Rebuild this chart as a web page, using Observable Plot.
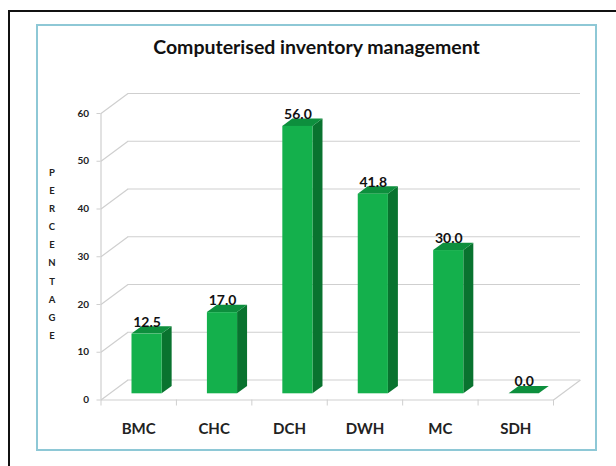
<!DOCTYPE html>
<html>
<head>
<meta charset="utf-8">
<script src="https://cdn.jsdelivr.net/npm/d3@7"></script>
<script src="https://cdn.jsdelivr.net/npm/@observablehq/plot@0.6"></script>
<style>
  html, body { margin: 0; padding: 0; background: #fff; overflow: hidden; }
  #wrap { position: relative; width: 616px; height: 466px; overflow: hidden; font-family: Lato, "Open Sans", sans-serif; }
  #outer { position: absolute; left: 8px; top: 10px; width: 700px; height: 600px; border-left: 2px solid #111; border-top: 2px solid #111; box-sizing: border-box; }
  #inner { position: absolute; left: 36px; top: 24px; width: 561px; height: 427px; border: 2px solid #8ec8d6; box-sizing: border-box; }
  #title { position: absolute; left: 36px; width: 561px; top: 35px; text-align: center; font-weight: 700; font-size: 19.5px; color: #111; }
  #ylabel { position: absolute; left: 47px; width: 10px; top: 164px; text-align: center; font-weight: 700; font-size: 9.5px; line-height: 18.1px; color: #222; }
  #chart { position: absolute; left: 0; top: 0; }
</style>
</head>
<body>
<div id="wrap">
  <div id="outer"></div>
  <div id="inner"></div>
  <div id="title"></div>
  <div id="ylabel"></div>
  <div id="chart"></div>
</div>
<script>
const categories = ["BMC", "CHC", "DCH", "DWH", "MC", "SDH"];
const values = [12.5, 17.0, 56.0, 41.8, 30.0, 0.0];
const yTicks = [0, 10, 20, 30, 40, 50, 60];
const xBoundaries = [0, 1, 2, 3, 4, 5, 6];
const titleText = "Computerised inventory management";
const yLabelText = "PERCENTAGE";

document.getElementById("title").textContent = titleText;
document.getElementById("ylabel").innerHTML = yLabelText.split("").join("<br>");

// perspective depth, expressed in data units
const DX = 0.358, DY = 4.19;
const F0 = 0.31, F1 = 0.68;

const bars = categories.map((c, i) => ({c, i, v: values[i]}));
const frontFaces = bars.map(d => ({c: d.c, x1: d.i + 0.3 + F0 * DX, x2: d.i + 0.7 + F0 * DX, y1: F0 * DY, y2: d.v + F0 * DY}));
const sideFaces = bars.flatMap(d => [
  {c: d.c, x: d.i + 0.7 + F0 * DX, y1: F0 * DY, y2: d.v + F0 * DY},
  {c: d.c, x: d.i + 0.7 + F1 * DX, y1: F1 * DY, y2: d.v + F1 * DY}
]);
const topFaces = bars.flatMap(d => [
  {c: d.c, y: d.v + F0 * DY, x1: d.i + 0.3 + F0 * DX, x2: d.i + 0.7 + F0 * DX},
  {c: d.c, y: d.v + F1 * DY, x1: d.i + 0.3 + F1 * DX, x2: d.i + 0.7 + F1 * DX}
]);

const grid = "#cfcfcf";
const chart = Plot.plot({
  width: 616,
  height: 466,
  marginLeft: 100.5,
  marginRight: 63,
  marginTop: 113,
  marginBottom: 66.5,
  style: {fontFamily: "Lato, 'Open Sans', sans-serif", background: "transparent", overflow: "visible"},
  x: {domain: [0, 6], ticks: xBoundaries, tickSize: 6, tickFormat: () => "", label: null},
  y: {domain: [0, 60], ticks: yTicks, tickSize: 4, tickPadding: 8, label: null, tickFormat: d => String(d)},
  marks: [
    Plot.ruleY(yTicks, {y: d => d + DY, x1: DX, x2: 6 + DX, stroke: grid, strokeWidth: 1.2}),
    Plot.link(yTicks, {x1: 0, y1: d => d, x2: DX, y2: d => d + DY, stroke: grid, strokeWidth: 1.2}),
    Plot.ruleY([0], {x1: 0, x2: 6, stroke: grid, strokeWidth: 1.2}),
    Plot.link([0], {x1: 6, y1: d => d, x2: 6 + DX, y2: d => d + DY, stroke: grid, strokeWidth: 1.2}),
    Plot.ruleX([0], {y1: 0, y2: 60, stroke: grid, strokeWidth: 1.2}),
    Plot.areaY(sideFaces, {x: "x", y1: "y1", y2: "y2", z: "c", fill: "#09732f"}),
    Plot.areaX(topFaces, {y: "y", x1: "x1", x2: "x2", z: "c", fill: "#0d8f3d"}),
    Plot.rect(frontFaces, {x1: "x1", x2: "x2", y1: "y1", y2: "y2", fill: "#14b04c"}),
    Plot.text(bars, {x: d => d.i + 0.5 + F0 * DX, y: d => d.v + F0 * DY, dy: -12, text: d => d.v.toFixed(1), fontWeight: "bold", fontSize: 14, fill: "#111"}),
    Plot.text(bars, {x: d => d.i + 0.5, y: 0, dy: 29.5, text: "c", fontWeight: "bold", fontSize: 15, fill: "#222"})
  ]
});
chart.querySelectorAll("g[aria-label='y-axis tick label'] text, g[aria-label='y-axis'] text").forEach(t => {
  t.setAttribute("font-weight", "bold");
  t.setAttribute("font-size", "10");
  t.setAttribute("fill", "#222");
});
chart.querySelectorAll("g[aria-label='x-axis tick'] path, g[aria-label='y-axis tick'] path, g[aria-label='x-axis'] path, g[aria-label='y-axis'] path").forEach(p => {
  p.setAttribute("stroke", grid);
});
document.getElementById("chart").appendChild(chart);
</script>
</body>
</html>
